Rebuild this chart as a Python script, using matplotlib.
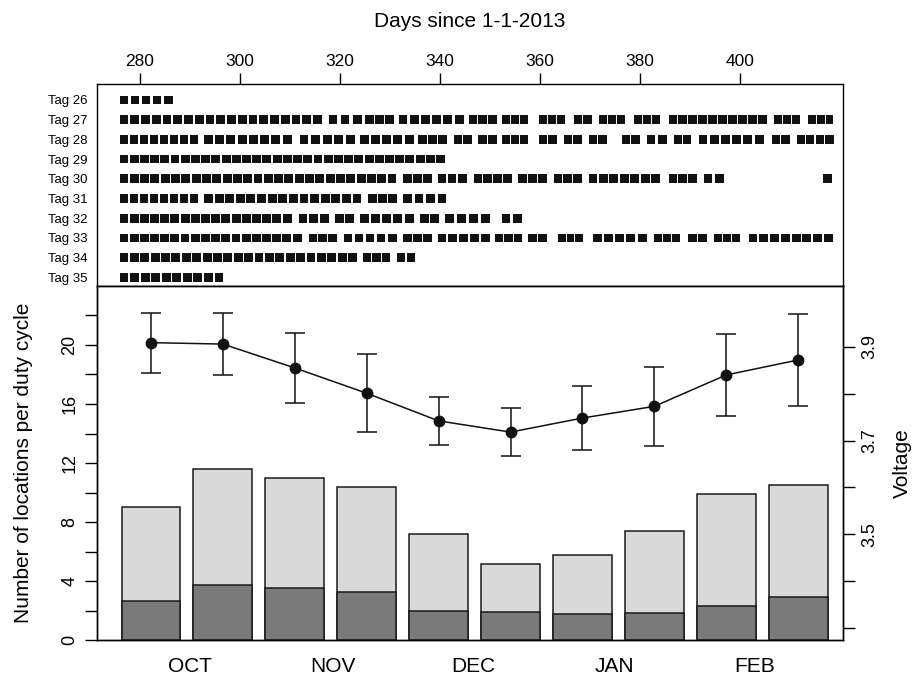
import matplotlib
matplotlib.use("Agg")
import matplotlib.pyplot as plt
from matplotlib.patches import Rectangle

plt.rcParams['font.family'] = ['Liberation Sans', 'DejaVu Sans']

# ---------------- data ----------------
tags = ["Tag 26", "Tag 27", "Tag 28", "Tag 29", "Tag 30",
        "Tag 31", "Tag 32", "Tag 33", "Tag 34", "Tag 35"]

# runs of adjacent squares: (first day, last day, number of squares)
tag26 = [(275.9, 286.5, 5)]
tag27 = [(275.9, 316.4, 19), (317.7, 324.3, 3), (325.0, 330.7, 3), (331.7, 344.7, 6),
         (345.7, 351.3, 3), (352.3, 357.6, 3), (359.7, 365.0, 3), (366.7, 370.4, 2),
         (371.7, 377.0, 3), (378.7, 384.0, 3), (385.7, 405.4, 10), (406.7, 412.0, 3),
         (413.7, 418.7, 3)]
tag28 = [(275.9, 291.7, 8), (292.8, 310.3, 8), (311.9, 323.0, 5), (324.0, 334.7, 5),
         (335.6, 341.3, 3), (342.7, 346.3, 2), (347.6, 351.3, 2), (352.3, 357.6, 3),
         (359.7, 363.3, 2), (364.7, 368.3, 2), (369.7, 373.3, 2), (376.3, 380.0, 2),
         (381.3, 385.3, 2), (386.7, 390.3, 2), (391.7, 404.7, 6), (406.3, 410.0, 2),
         (411.3, 418.7, 4)]
tag29 = [(275.9, 341.0, 32)]
tag30 = [(275.9, 331.3, 27), (332.6, 338.3, 3), (339.5, 345.3, 3), (346.7, 354.3, 4),
         (355.6, 361.3, 3), (362.7, 368.3, 3), (369.7, 384.0, 7), (385.7, 391.3, 3),
         (392.7, 396.7, 2), (416.7, 418.5, 1)]
tag31 = [(275.9, 291.7, 8), (292.8, 324.3, 15), (325.6, 331.3, 3), (332.6, 341.3, 4)]
tag32 = [(275.9, 310.3, 17), (311.7, 317.7, 3), (319.0, 322.7, 2), (324.0, 334.7, 5),
         (336.0, 339.7, 2), (341.0, 350.0, 4), (352.3, 356.3, 2)]
tag33 = [(275.9, 312.3, 18), (313.7, 319.3, 3), (320.7, 331.3, 5), (332.6, 338.3, 3),
         (339.5, 350.0, 5), (351.0, 356.4, 3), (357.6, 361.3, 2), (363.6, 368.6, 3),
         (370.6, 381.3, 5), (382.7, 388.0, 3), (389.6, 393.3, 2), (394.7, 400.0, 3),
         (401.7, 418.6, 8)]
tag34 = [(275.9, 323.4, 23), (324.6, 330.0, 3), (331.4, 335.0, 2)]
tag35 = [(275.9, 296.7, 10)]
tag_runs = [tag26, tag27, tag28, tag29, tag30, tag31, tag32, tag33, tag34, tag35]

day_ticks = [280, 300, 320, 340, 360, 380, 400]

months = ["OCT", "NOV", "DEC", "JAN", "FEB"]
month_pos = [0.54, 2.53, 4.48, 6.44, 8.40]

total_locs = [9.0, 11.6, 11.0, 10.4, 7.2, 5.15, 5.75, 7.4, 9.9, 10.5]
dark_locs = [2.65, 3.75, 3.5, 3.25, 2.0, 1.9, 1.75, 1.85, 2.3, 2.9]

volt_mean = [3.909, 3.906, 3.855, 3.801, 3.742, 3.718, 3.748, 3.773, 3.840, 3.872]
volt_sd = [0.064, 0.066, 0.075, 0.083, 0.052, 0.051, 0.068, 0.085, 0.088, 0.098]

# ---------------- figure ----------------
W, H = 914, 678
fig = plt.figure(figsize=(W / 100, H / 100), dpi=100)

L, R = 97, 843
T1, B1 = 84, 286
B2 = 640

ax1 = fig.add_axes([L / W, 1 - B1 / H, (R - L) / W, (B1 - T1) / H])
ax2 = fig.add_axes([L / W, 1 - B2 / H, (R - L) / W, (B2 - B1) / H])

# --- top panel: tag activity ---
max_w = 1.78   # days
min_gap = 0.22  # days
sq_h = 0.44   # row units
for i, runs in enumerate(tag_runs):
    for start, end, n in runs:
        if n > 1:
            w = min(max_w, (end - start + min_gap) / n - min_gap)
            step = (end - start - w) / (n - 1)
        else:
            w, step = min(max_w, end - start), 0
        for k in range(n):
            x0 = start + k * step
            ax1.add_patch(Rectangle((x0, i - sq_h / 2), w, sq_h,
                                    facecolor='#111111', edgecolor='none'))

ax1.set_xlim(271.4, 420.6)
ax1.set_ylim(9.44, -0.81)
ax1.xaxis.tick_top()
ax1.xaxis.set_label_position('top')
ax1.set_xticks(day_ticks)
ax1.set_xticklabels([str(d) for d in day_ticks], fontsize=12.5)
ax1.tick_params(axis='x', length=8, width=1, pad=3)
ax1.set_xlabel("Days since 1-1-2013", fontsize=15, labelpad=19)
ax1.set_yticks(range(len(tags)))
ax1.set_yticklabels(tags, fontsize=9.5)
ax1.tick_params(axis='y', length=0, pad=7)
for s in ax1.spines.values():
    s.set_linewidth(1.0)

# --- bottom panel: bars ---
idx = list(range(len(total_locs)))
ax2.bar(idx, total_locs, width=0.82, color='#D9D9D9', edgecolor='#1a1a1a', linewidth=1.1, zorder=2)
ax2.bar(idx, dark_locs, width=0.82, color='#7A7A7A', edgecolor='#1a1a1a', linewidth=1.1, zorder=3)
ax2.set_xlim(-0.751, 9.624)
ax2.set_ylim(0, 24)
ax2.set_yticks(range(0, 24, 2))
ax2.set_yticklabels([str(v) if v % 4 == 0 else "" for v in range(0, 24, 2)],
                    fontsize=13, rotation=90, va='center')
ax2.tick_params(axis='y', length=8.5, width=1, pad=5)
ax2.set_ylabel("Number of locations per duty cycle", fontsize=15, labelpad=20)
ax2.set_xticks(month_pos)
ax2.set_xticklabels(months, fontsize=15)
ax2.tick_params(axis='x', length=0, pad=12)
for s in ax2.spines.values():
    s.set_linewidth(1.0)

# --- voltage on right axis ---
ax3 = ax2.twinx()
ax3.set_position(ax2.get_position())
ax3.errorbar(idx, volt_mean, yerr=volt_sd, color='#111111', marker='o', markersize=7.5,
             linewidth=1.1, elinewidth=1.1, capsize=7.5, capthick=1.1, zorder=5)
ax3.set_ylim(3.274, 4.03)
vt = [3.3, 3.4, 3.5, 3.6, 3.7, 3.8, 3.9]
ax3.set_yticks(vt)
ax3.set_yticklabels(["", "", "3.5", "", "3.7", "", "3.9"], fontsize=13, rotation=90, va='center')
ax3.tick_params(axis='y', length=8.5, width=1, pad=5)
ax3.set_ylabel("Voltage", fontsize=15, labelpad=10)
ax3.set_xlim(-0.751, 9.624)
for s in ax3.spines.values():
    s.set_linewidth(1.0)

fig.savefig("out.png", dpi=100)
